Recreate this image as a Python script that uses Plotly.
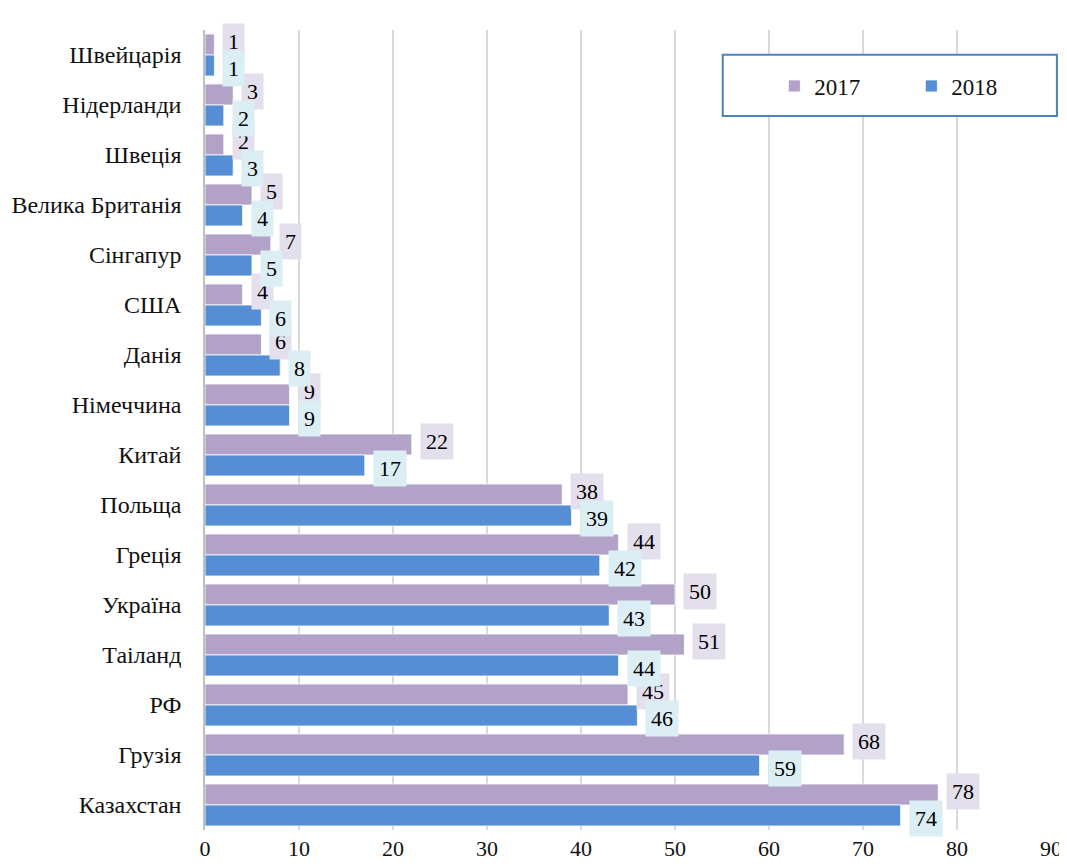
import plotly.graph_objects as go

categories = ["Швейцарія", "Нідерланди", "Швеція", "Велика Британія", "Сінгапур",
              "США", "Данія", "Німеччина", "Китай", "Польща", "Греція", "Україна",
              "Таіланд", "РФ", "Грузія", "Казахстан"]
values_2017 = [1, 3, 2, 5, 7, 4, 6, 9, 22, 38, 44, 50, 51, 45, 68, 78]
values_2018 = [1, 2, 3, 4, 5, 6, 8, 9, 17, 39, 42, 43, 44, 46, 59, 74]
x_ticks = [0, 10, 20, 30, 40, 50, 60, 70, 80, 90]

FONT = "Liberation Serif, Times New Roman, serif"
C17 = "#b3a2c7"
C18 = "#558ed5"
BG17 = "#e4dfec"
BG18 = "#dbeef4"

fig = go.Figure()
fig.add_trace(go.Bar(y=categories, x=values_2017, name="2017", orientation="h",
                     marker=dict(color=C17, line=dict(color="white", width=0.8))))
fig.add_trace(go.Bar(y=categories, x=values_2018, name="2018", orientation="h",
                     marker=dict(color=C18, line=dict(color="white", width=0.8))))

for cat, v in zip(categories, values_2017):
    fig.add_annotation(x=v, y=cat, text=str(v), xref="x", yref="y", showarrow=False,
                       xanchor="left", yanchor="middle", xshift=8, yshift=14,
                       bgcolor=BG17, borderpad=5,
                       font=dict(family=FONT, size=22, color="#000000"))
for cat, v in zip(categories, values_2018):
    fig.add_annotation(x=v, y=cat, text=str(v), xref="x", yref="y", showarrow=False,
                       xanchor="left", yanchor="middle", xshift=8, yshift=-13,
                       bgcolor=BG18, borderpad=5,
                       font=dict(family=FONT, size=22, color="#000000"))

# legend frame
fig.add_shape(type="rect", xref="paper", yref="paper",
              x0=0.612, x1=1.007, y0=0.8925, y1=0.969,
              line=dict(color="#4f81bd", width=2), fillcolor="white", layer="above")

n = len(categories)
fig.update_layout(
    width=1059, height=858,
    margin=dict(l=197, r=16, t=22, b=36),
    paper_bgcolor="white", plot_bgcolor="white",
    barmode="group", bargap=0.16, bargroupgap=0,
    font=dict(family=FONT, size=22, color="#111111"),
    showlegend=True,
    legend=dict(orientation="h", x=0.673, y=0.93, xanchor="left", yanchor="middle",
                bgcolor="rgba(0,0,0,0)", borderwidth=0, entrywidth=92,
                font=dict(family=FONT, size=23, color="#111111"),
                itemwidth=30),
    xaxis=dict(range=[0, 90], tickvals=x_ticks, showgrid=True, gridcolor="#d9d9d9",
               gridwidth=1.5, zeroline=False, showline=False, ticks="",
               automargin=False,
               ticklabelstandoff=3, tickfont=dict(family=FONT, size=22)),
    yaxis=dict(categoryorder="array", categoryarray=categories,
               range=[n - 0.5, -0.5], autorange=False,
               showline=True, linecolor="#bfbfbf", linewidth=1.5, ticks="",
               automargin=False,
               ticklabelstandoff=17, tickfont=dict(family=FONT, size=24)),
)

fig.write_html("out.html")
